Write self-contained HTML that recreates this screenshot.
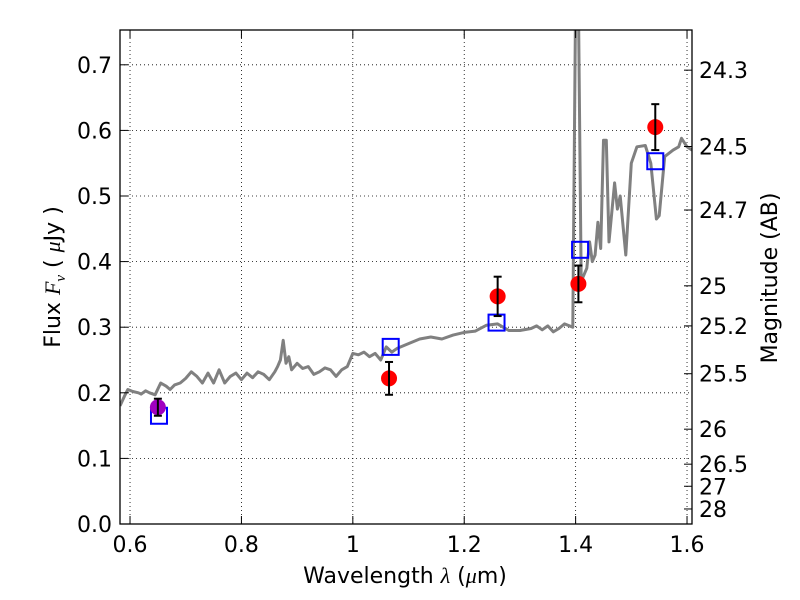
<!DOCTYPE html>
<html><head><meta charset="utf-8"><style>
body{margin:0;background:#fff;}
svg{display:block;font-family:"DejaVu Sans","Liberation Sans",sans-serif;}
</style></head><body>
<svg id="chart" width="800" height="600" viewBox="0 0 800 600" xmlns="http://www.w3.org/2000/svg">
<defs><clipPath id="clip"><rect x="120" y="30" width="572" height="494"/></clipPath></defs>
<rect x="0" y="0" width="800" height="600" fill="#fff"/>
<g id="grid"></g>
<g id="spec" clip-path="url(#clip)"></g>
<g id="marks"></g>
<rect x="120" y="30" width="572" height="494" fill="none" stroke="#000" stroke-width="1.3"/>
<g id="axes"></g>
<text x="405" y="583" font-size="22" text-anchor="middle">Wavelength  <tspan font-style="italic" font-family="Liberation Serif">λ</tspan> (<tspan font-style="italic" font-family="Liberation Serif">μ</tspan>m)</text>
<text transform="translate(60,277) rotate(-90)" font-size="22" text-anchor="middle">Flux  <tspan font-style="italic" font-family="Liberation Serif">F</tspan><tspan font-style="italic" font-family="Liberation Serif" font-size="15" dy="5">ν</tspan><tspan dy="-5">  ( </tspan><tspan font-style="italic" font-family="Liberation Serif">μ</tspan>Jy )</text>
<text transform="translate(777,278) rotate(-90)" font-size="22" text-anchor="middle">Magnitude (AB)</text>
</svg>
<script>
const specW=[0.582,0.59,0.596,0.605,0.615,0.62,0.628,0.635,0.645,0.655,0.665,0.672,0.68,0.69,0.7,0.71,0.72,0.73,0.74,0.75,0.76,0.77,0.78,0.79,0.8,0.81,0.82,0.83,0.84,0.85,0.86,0.865,0.87,0.875,0.88,0.885,0.89,0.9,0.91,0.92,0.93,0.94,0.95,0.96,0.97,0.98,0.99,1.0,1.01,1.02,1.03,1.04,1.05,1.06,1.07,1.08,1.1,1.12,1.14,1.16,1.18,1.2,1.22,1.24,1.26,1.28,1.3,1.32,1.33,1.34,1.35,1.36,1.37,1.38,1.395,1.4,1.405,1.41,1.42,1.425,1.43,1.435,1.44,1.445,1.45,1.455,1.46,1.47,1.475,1.48,1.49,1.5,1.51,1.525,1.535,1.545,1.55,1.56,1.575,1.585,1.59,1.6,1.609];
const specF=[0.18,0.195,0.205,0.202,0.20,0.198,0.203,0.20,0.197,0.215,0.21,0.205,0.212,0.215,0.222,0.232,0.225,0.215,0.23,0.215,0.235,0.215,0.225,0.23,0.22,0.23,0.223,0.232,0.228,0.22,0.232,0.24,0.25,0.28,0.245,0.255,0.235,0.245,0.237,0.24,0.228,0.232,0.238,0.235,0.225,0.235,0.24,0.26,0.258,0.262,0.255,0.26,0.25,0.27,0.262,0.268,0.275,0.282,0.285,0.282,0.288,0.292,0.294,0.303,0.305,0.295,0.295,0.298,0.302,0.296,0.302,0.293,0.298,0.305,0.30,0.8,0.8,0.37,0.39,0.43,0.40,0.41,0.46,0.42,0.585,0.585,0.43,0.52,0.48,0.50,0.41,0.55,0.575,0.577,0.55,0.465,0.47,0.56,0.57,0.575,0.588,0.575,0.57];
const photW=[0.65,1.065,1.26,1.405,1.543];
const photF=[0.178,0.222,0.347,0.366,0.605];
const photE=[0.013,0.025,0.03,0.028,0.035];
const modelW=[0.652,1.068,1.258,1.408,1.543];
const modelF=[0.165,0.27,0.307,0.418,0.553];
const xTicks=[0.6,0.8,1.0,1.2,1.4,1.6];
const xTickLabels=["0.6","0.8","1","1.2","1.4","1.6"];
const yTicks=[0,0.1,0.2,0.3,0.4,0.5,0.6,0.7];
const yTickLabels=["0.0","0.1","0.2","0.3","0.4","0.5","0.6","0.7"];
const magTicks=[24.3,24.5,24.7,25,25.2,25.5,26,26.5,27,28];
const magLabels=["24.3","24.5","24.7","25","25.2","25.5","26","26.5","27","28"];
const NS="http://www.w3.org/2000/svg";
const X=w=>120+(w-0.582)*557;
const Y=f=>524-f*656;
function mk(tag,attrs,parent,text){const e=document.createElementNS(NS,tag);for(const k in attrs)e.setAttribute(k,attrs[k]);if(text!==undefined)e.textContent=text;parent.appendChild(e);return e;}
const grid=document.getElementById('grid'),axes=document.getElementById('axes'),spec=document.getElementById('spec'),marks=document.getElementById('marks');
xTicks.forEach((t,i)=>{const x=X(t);
 const g=mk('line',{x1:x,x2:x,y1:30,y2:524,stroke:'#000','stroke-width':0.8,'stroke-dasharray':'1,3'},grid);
 
 mk('line',{x1:x,x2:x,y1:524,y2:516,stroke:'#000'},axes);mk('line',{x1:x,x2:x,y1:30,y2:38,stroke:'#000'},axes);
 const l=mk('text',{x:x,y:552,'font-size':22,'text-anchor':'middle'},axes,xTickLabels[i]);
 });
yTicks.forEach((t,i)=>{const y=Y(t);
 const g=mk('line',{x1:120,x2:692,y1:y,y2:y,stroke:'#000','stroke-width':0.8,'stroke-dasharray':'1,3'},grid);
 
 mk('line',{x1:120,x2:128,y1:y,y2:y,stroke:'#000'},axes);
 const l=mk('text',{x:112,y:y+8,'font-size':22,'text-anchor':'end'},axes,yTickLabels[i]);
 });
magTicks.forEach((m,i)=>{const y=Y(Math.pow(10,-0.4*(m-23.9)));
 mk('line',{x1:692,x2:684,y1:y,y2:y,stroke:'#000'},axes);
 const l=mk('text',{x:699,y:y+8,'font-size':22},axes,magLabels[i]);
 });
const pl=mk('polyline',{points:specW.map((w,i)=>X(w).toFixed(1)+','+Y(specF[i]).toFixed(1)).join(' '),fill:'none',stroke:'#808080','stroke-width':3,'stroke-linejoin':'round'},spec);

modelW.forEach((w,i)=>{const x=X(w),y=Y(modelF[i]);
 const r=mk('rect',{x:x-8,y:y-8,width:16,height:16,fill:'none',stroke:'#0000ff','stroke-width':2},marks);
 });
photW.forEach((w,i)=>{const x=X(w),y=Y(photF[i]),e=photE[i]*656;
 const c=mk('circle',{cx:x,cy:y,r:8,fill:i===0?'#a000c0':'#ff0000'},marks);
 
 const g=mk('g',{stroke:'#000','stroke-width':2},marks);
 
 mk('line',{x1:x,x2:x,y1:y-e,y2:y+e},g);mk('line',{x1:x-4,x2:x+4,y1:y-e,y2:y-e},g);mk('line',{x1:x-4,x2:x+4,y1:y+e,y2:y+e},g);});
</script>
</body></html>
